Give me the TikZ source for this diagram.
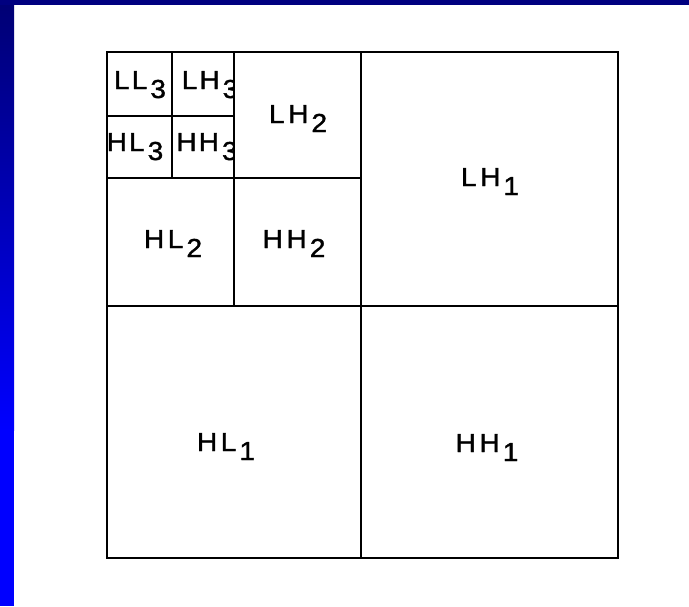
\documentclass[tikz,border=0pt]{standalone}
\usepackage{fontspec}
\newfontfamily\bigfont[FakeStretch=1.08,LetterSpace=14,FakeBold=1.4]{Liberation Sans}
\newfontfamily\smallfont[FakeStretch=1.08,LetterSpace=8,FakeBold=1.4]{Liberation Sans}
\newcommand\sbx[2]{#1\kern3pt\raisebox{-9pt}{#2}}
\definecolor{navy}{RGB}{0,0,115}
\definecolor{topbar}{RGB}{0,0,128}
\definecolor{brightblue}{RGB}{0,0,255}
\begin{document}
\begin{tikzpicture}[x=1pt,y=-1pt,
  grid/.style={line width=2.7pt,black},
  biglab/.style={font={\bigfont\fontsize{26}{26}\selectfont},inner sep=0pt,anchor=base},
  smalllab/.style={font={\smallfont\fontsize{26}{26}\selectfont},inner sep=0pt,anchor=base}]
\useasboundingbox (0,0) rectangle (689,606);
\fill[white] (0,0) rectangle (689,606);
% blue frame
\shade[top color=navy,bottom color=brightblue] (0,0) rectangle (14,430);
\fill[brightblue] (0,429) rectangle (14,606);
\fill[topbar] (0,0) rectangle (689,5);
% corner coordinates
\coordinate (TL) at (107,52);
\coordinate (BR) at (618,558);
% small cell labels (clipped to their cells)
\begin{scope}
  \clip (107,52) rectangle (172,116);
  \node[smalllab] (ll3) at (140,89) {\sbx{LL}{3}};
\end{scope}
\begin{scope}
  \clip (172,52) rectangle (234,116);
  \node[smalllab] (lh3) at (210,89) {\sbx{LH}{3}};
\end{scope}
\begin{scope}
  \clip (107,116) rectangle (172,178);
  \node[smalllab] (hl3) at (135,151) {\sbx{HL}{3}};
\end{scope}
\begin{scope}
  \clip (172,116) rectangle (234,178);
  \node[smalllab] (hh3) at (207,151) {\sbx{HH}{3}};
\end{scope}
% larger labels
\node[biglab] (lh2) at (298,123) {\sbx{LH}{2}};
\node[biglab] (hl2) at (173,248) {\sbx{HL}{2}};
\node[biglab] (hh2) at (294,248) {\sbx{HH}{2}};
\node[biglab] (lh1) at (490,186) {\sbx{LH}{1}};
\node[biglab] (hl1) at (226,451) {\sbx{HL}{1}};
\node[biglab] (hh1) at (487,452) {\sbx{HH}{1}};
% grid lines
\draw[grid] (TL) rectangle (BR);
\draw[grid] (361,52) -- (361,558);
\draw[grid] (107,306) -- (618,306);
\draw[grid] (234,52) -- (234,306);
\draw[grid] (107,178) -- (361,178);
\draw[grid] (172,52) -- (172,178);
\draw[grid] (107,116) -- (234,116);
\end{tikzpicture}
\end{document}
